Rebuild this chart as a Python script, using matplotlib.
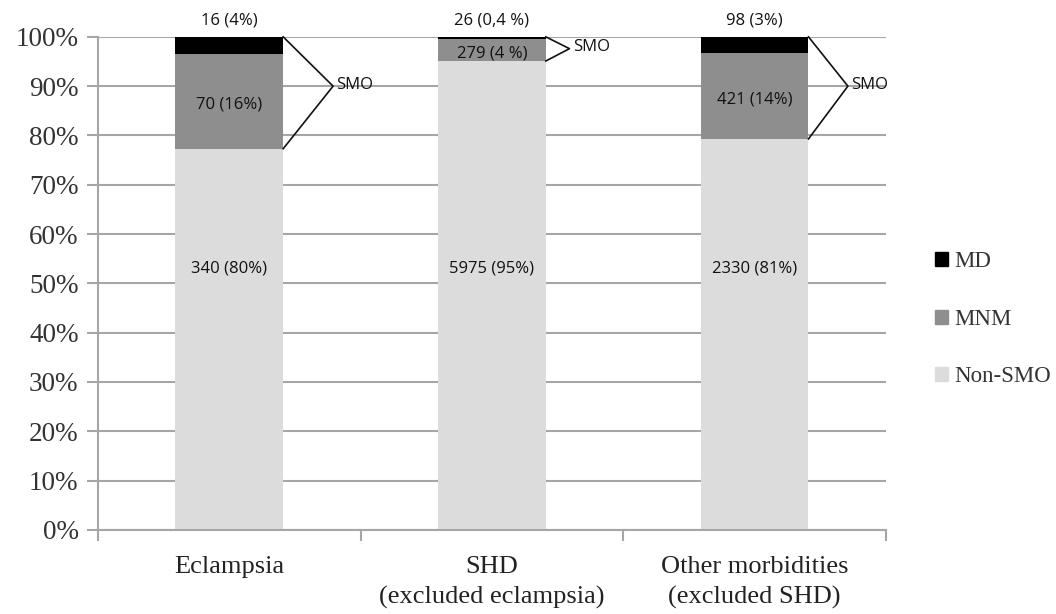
import matplotlib.pyplot as plt
from matplotlib.patches import Patch
import numpy as np

# stacked shares (%) as drawn in the picture
categories = ["Eclampsia", "SHD\n(excluded eclampsia)", "Other morbidities\n(excluded SHD)"]
non_smo = [77.3, 95.1, 79.3]
mnm = [19.2, 4.5, 17.5]
md = [3.5, 0.4, 3.2]

# text printed on the segments
non_smo_labels = ["340 (80%)", "5975 (95%)", "2330 (81%)"]
mnm_labels = ["70 (16%)", "279 (4 %)", "421 (14%)"]
md_labels = ["16 (4%)", "26 (0,4 %)", "98 (3%)"]

series_names = ["MD", "MNM", "Non-SMO"]
colors = {"MD": "#000000", "MNM": "#8e8e8e", "Non-SMO": "#dcdcdc"}

x = np.arange(len(categories))
width = 0.41

fig = plt.figure(figsize=(10.56, 6.14), dpi=100)
ax = fig.add_axes([0.0928, 0.137, 0.7462, 0.803])

non_smo = np.array(non_smo)
mnm = np.array(mnm)
md = np.array(md)

ax.bar(x, non_smo, width, color=colors["Non-SMO"], zorder=2)
ax.bar(x, mnm, width, bottom=non_smo, color=colors["MNM"], zorder=2)
ax.bar(x, md, width, bottom=non_smo + mnm, color=colors["MD"], zorder=2)

lab_font = dict(family="Open Sans", fontsize=12, color="#111111")
for i in range(len(x)):
    ax.text(x[i], 53, non_smo_labels[i], ha="center", va="center", zorder=3, **lab_font)
    ax.text(x[i], non_smo[i] + mnm[i] / 2 - 0.7, mnm_labels[i], ha="center", va="center",
            zorder=3, **lab_font)
    ax.text(x[i], 103.4, md_labels[i], ha="center", va="center", clip_on=False, **lab_font)

# SMO brackets: (offset of apex from bar edge, apex height)
apex = [(0.19, 90.0), (0.09, 97.6), (0.15, 90.0)]
for i in range(len(x)):
    edge = x[i] + width / 2
    dx, ay = apex[i]
    ax.plot([edge, edge + dx, edge], [100, ay, non_smo[i]], color="#111111", lw=1.2,
            zorder=3, clip_on=False)
    ax.text(edge + dx + 0.012, ay + 0.3, "SMO", ha="left", va="center", **lab_font)

ax.set_xlim(-0.5, 2.5)
ax.set_ylim(0, 100)
ax.set_yticks(np.arange(0, 101, 10))
ax.set_yticklabels([f"{v}%" for v in range(0, 101, 10)], family="Liberation Serif",
                   fontsize=19.5, color="#333333")
ax.yaxis.grid(True, color="#a6a6a6", lw=1.5, zorder=0)

ax.set_xticks([-0.5, 0.5, 1.5, 2.5])
ax.set_xticklabels([])
ax.set_xticks(x, minor=True)
ax.set_xticklabels(categories, minor=True, family="Liberation Serif", fontsize=19,
                   color="#222222", linespacing=1.45)
ax.tick_params(axis="x", which="minor", length=0, pad=19)
ax.tick_params(axis="x", which="major", length=8, color="#a6a6a6", width=1.5)
ax.tick_params(axis="y", length=8, color="#a6a6a6", width=1.5, pad=6)

for s in ["top", "right"]:
    ax.spines[s].set_visible(False)
for s in ["left", "bottom"]:
    ax.spines[s].set_color("#a6a6a6")
    ax.spines[s].set_linewidth(1.5)

handles = [Patch(facecolor=colors[n], edgecolor=colors[n]) for n in series_names]
leg = fig.legend(handles, series_names, loc="center left", bbox_to_anchor=(0.866, 0.48),
                 frameon=False, handlelength=0.55, handleheight=0.55, handletextpad=0.3,
                 labelspacing=1.6, prop={"family": "Liberation Serif", "size": 16.5})
for t in leg.get_texts():
    t.set_color("#333333")

fig.savefig("out.png", dpi=100, facecolor="white")
